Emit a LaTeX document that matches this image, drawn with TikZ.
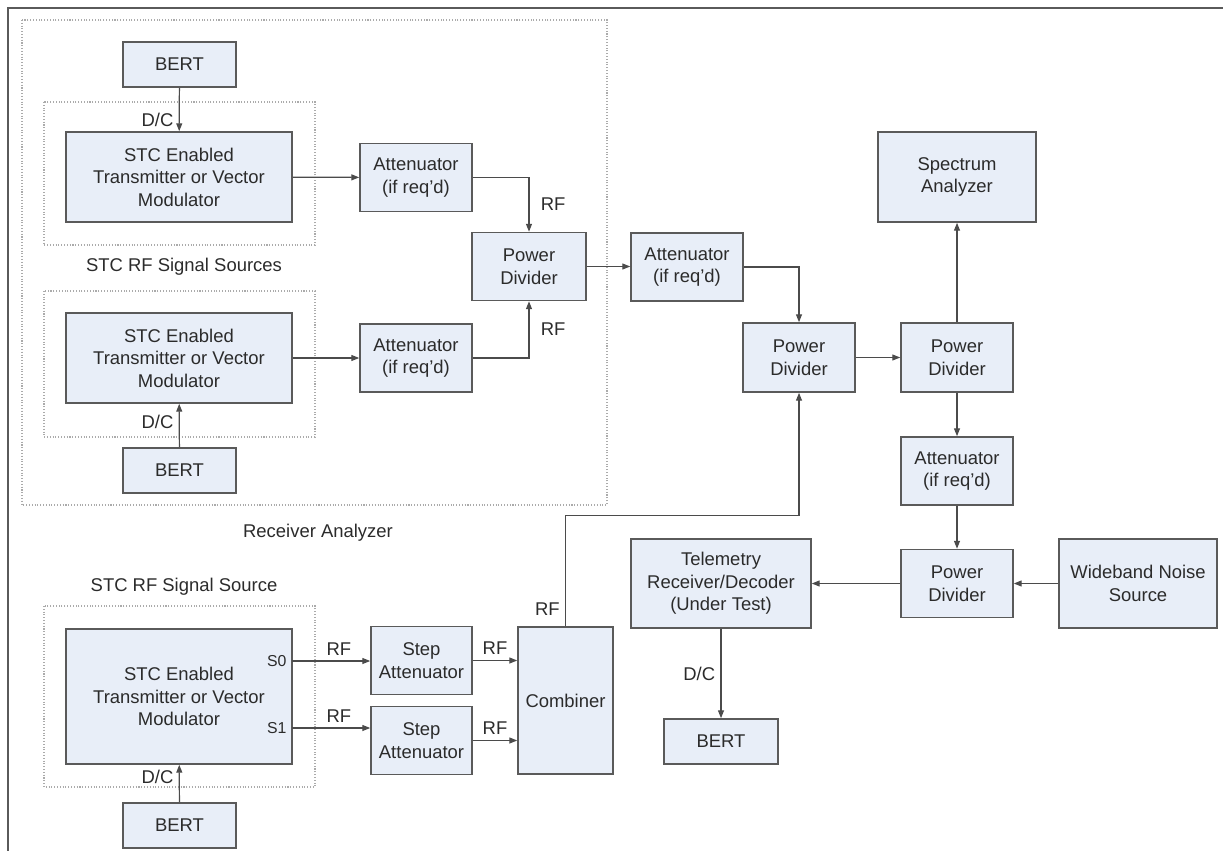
\documentclass[tikz,border=0pt]{standalone}
\usepackage{fontspec}
\setmainfont{Liberation Sans}
\usepackage{xcolor}
\usetikzlibrary{positioning, arrows.meta, calc}
\definecolor{BoxFill}{HTML}{E8EEF8}
\definecolor{BoxLine}{HTML}{5A5A5A}
\definecolor{GroupLine}{HTML}{ABABAB}
\definecolor{Ink}{HTML}{2B2B2B}

\begin{document}
\begin{tikzpicture}[x=0.02cm, y=-0.02cm,
    font=\fontsize{10.5}{12.8}\selectfont, text=Ink,
    blk/.style={draw=BoxLine, line width=0.9pt, fill=BoxFill, align=center, inner sep=2pt},
    bert/.style={blk, minimum width=2.26cm, minimum height=0.9cm},
    unit/.style={blk, minimum width=2.24cm, minimum height=1.36cm},
    src/.style={blk, minimum width=4.52cm, minimum height=1.8cm},
    inst/.style={blk, minimum width=3.16cm, minimum height=1.8cm},
    grp/.style={draw=GroupLine, densely dotted, line width=0.6pt},
    conn/.style={draw=Ink!85, line width=0.7pt, -{Triangle[length=4.5pt, width=3.4pt]}},
    tag/.style={inner sep=3pt}]
  \useasboundingbox (0,0) rectangle (1223,851);
  \draw[BoxLine, line width=1pt] (1223,8) -- (8,8) -- (8,851);

  % receiver analyzer groups
  \draw[grp] (22,20) rectangle (607,505);
  \draw[grp] (44,102) rectangle (315,245);
  \draw[grp] (44,291) rectangle (315,437);
  \draw[grp] (44,606) rectangle (315,787);
  \node (lblSources) at (184,267) {STC RF Signal Sources};
  \node (lblAnalyzer) at (318,533) {Receiver Analyzer};
  \node (lblSource) at (184,587) {STC RF Signal Source};

  % blocks
  \node[bert] (bertA) at (179.5,64.5) {BERT};
  \node[src] (stcA) at (179,177) {STC Enabled\\Transmitter or Vector\\Modulator};
  \node[unit] (attA) at (416,177.5) {Attenuator\\(if req'd)};
  \node[unit, minimum width=2.28cm] (pdA) at (529,266.5) {Power\\Divider};
  \node[src] (stcB) at (179,358) {STC Enabled\\Transmitter or Vector\\Modulator};
  \node[unit] (attB) at (416,358) {Attenuator\\(if req'd)};
  \node[bert] (bertB) at (179.5,470.5) {BERT};
  \node[unit] (attC) at (687,267) {Attenuator\\(if req'd)};
  \node[unit, minimum height=1.38cm] (pdB) at (799,357.5) {Power\\Divider};
  \node[unit, minimum height=1.38cm] (pdC) at (957,357.5) {Power\\Divider};
  \node[inst] (spec) at (957,177) {Spectrum\\Analyzer};
  \node[unit] (attD) at (957,471) {Attenuator\\(if req'd)};
  \node[unit] (pdD) at (957,583.5) {Power\\Divider};
  \node[inst, minimum height=1.78cm] (noise) at (1138,583.5) {Wideband Noise\\Source};
  \node[inst, minimum width=3.6cm, minimum height=1.78cm] (rx) at (721,583.5) {Telemetry\\Receiver/Decoder\\(Under Test)};
  \node[bert, minimum width=2.28cm] (bertC) at (721,741.5) {BERT};
  \node[src, minimum height=2.7cm] (stcC) at (179,696.5) {STC Enabled\\Transmitter or Vector\\Modulator};
  \node[unit, minimum width=2.02cm] (stepA) at (421.5,660.5) {Step\\Attenuator};
  \node[unit, minimum width=2.02cm] (stepB) at (421.5,740.5) {Step\\Attenuator};
  \node[blk, minimum width=1.9cm, minimum height=2.94cm] (comb) at (565.5,700.5) {Combiner};
  \node[bert] (bertD) at (179.5,825.5) {BERT};

  % source outputs
  \coordinate (s0) at (292,661);
  \coordinate (s1) at (292,728);
  \node[tag, left, font=\fontsize{9}{10}\selectfont] (lblS0) at (s0) {S0};
  \node[tag, left, font=\fontsize{9}{10}\selectfont] (lblS1) at (s1) {S1};

  % connectors
  \draw[conn] (bertA) -- node[tag, pos=0.73, left] {D/C} (stcA);
  \draw[conn] (stcA) -- (attA);
  \draw[conn] (attA.east) -| node[tag, pos=0.75, right, xshift=0.12cm] {RF} (pdA.north);
  \draw[conn] (attB.east) -| node[tag, pos=0.75, right, xshift=0.12cm] {RF} (pdA.south);
  \draw[conn] (stcB) -- (attB);
  \draw[conn] (bertB) -- node[tag, pos=0.58, left] {D/C} (stcB);
  \draw[conn] (pdA.east) -- (pdA.east -| attC.west);
  \draw[conn] (attC.east) -| (pdB.north);
  \draw[conn] (pdB) -- (pdC);
  \draw[conn] (pdC) -- (spec);
  \draw[conn] (pdC) -- (attD);
  \draw[conn] (attD) -- (pdD);
  \draw[conn] (noise) -- (pdD);
  \draw[conn] (pdD) -- (rx);
  \draw[conn] (rx) -- node[tag, left] {D/C} (bertC);
  \draw[conn] (bertD) -- node[tag, pos=0.67, left] {D/C} (stcC);
  \draw[conn] (s0) -- node[tag, pos=0.6, above] {RF} (s0 -| stepA.west);
  \draw[conn] (s1) -- node[tag, pos=0.6, above] {RF} (s1 -| stepB.west);
  \draw[conn] (stepA.east) -- node[tag, above] {RF} (stepA.east -| comb.west);
  \draw[conn] (stepB.east) -- node[tag, above] {RF} (stepB.east -| comb.west);
  \draw[conn] (comb.north) -- node[tag, pos=0.15, left] {RF} ++(0,-111) -| (pdB.south);
\end{tikzpicture}
\end{document}
